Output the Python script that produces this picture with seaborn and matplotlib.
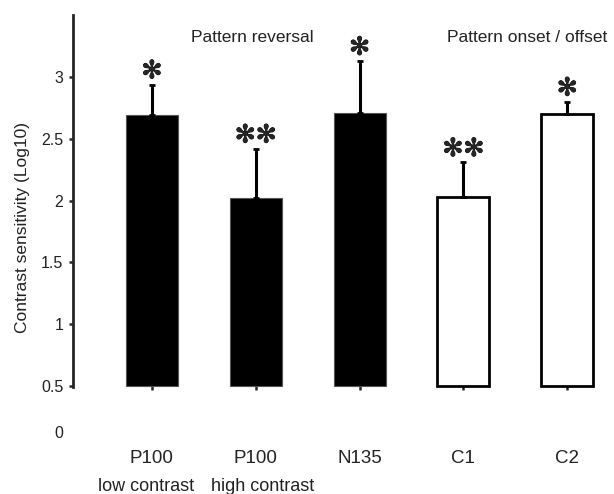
import numpy as np
import pandas as pd
import matplotlib
matplotlib.use("Agg")
import matplotlib.pyplot as plt
import matplotlib.patheffects as pe
import seaborn as sns

# values
conds = ["P100 low", "P100 high", "N135", "C1", "C2"]
ticklabels = ["P100", "P100", "N135", "C1", "C2"]
sublabels = ["low contrast", "high contrast"]
sub_shift = [-0.06, 0.07]
means = [2.69, 2.02, 2.71, 2.03, 2.70]
sem_up = [0.25, 0.40, 0.42, 0.28, 0.10]
stars = ["✻", "✻✻", "✻", "✻✻", "✻"]
fills = ["black", "black", "black", "white", "white"]
base = 0.5
yticks = [0.5, 1, 1.5, 2, 2.5, 3]
groups = ["Pattern reversal", "Pattern onset / offset"]
group_x = [0.97, 3.61]

sns.set_style("ticks")
plt.rcParams['font.family'] = ['Liberation Sans', 'DejaVu Sans']

df = pd.DataFrame({"cond": conds, "height": np.array(means) - base})

fig = plt.figure(figsize=(6.14, 4.94), dpi=100)
ax = fig.add_axes([0.1189, 0.0184, 0.8811, 0.9755])

sns.barplot(data=df, x="cond", y="height", hue="cond", palette=fills,
            bottom=base, width=0.5, legend=False, ax=ax)
for p, c in zip(ax.patches, fills):
    if c == "white":
        p.set_edgecolor("black")
        p.set_linewidth(2)
    else:
        p.set_edgecolor("#555555")
        p.set_linewidth(0.8)

x = np.arange(len(conds))
ax.errorbar(x, means, yerr=[np.zeros(len(means)), sem_up], fmt="none",
            ecolor="black", elinewidth=2.2, capsize=2.5, capthick=2, zorder=1)

for xi, m, e, s in zip(x, means, sem_up, stars):
    ax.annotate(s, (xi, m + e), xytext=(0, 1), textcoords="offset points",
                ha="center", va="bottom", fontsize=18, family="DejaVu Sans",
                path_effects=[pe.withStroke(linewidth=0.6, foreground="black")])

for gx, g in zip(group_x, groups):
    ax.text(gx, 3.32, g, ha="center", va="center", fontsize=12.5, color="#222222")

# second line of the first two category labels
for i, (sl, dx) in enumerate(zip(sublabels, sub_shift)):
    ax.annotate(sl, (i + dx, base), xytext=(0, -66.5), textcoords="offset points",
                ha="center", va="top", fontsize=13, color="#222222",
                annotation_clip=False)

ax.set_xlim(-0.76, 4.45)
ax.set_ylim(-0.3, 3.6)
ax.set_xticks(x, ticklabels)

ax.set_yticks([0.13] + yticks)
ax.set_yticklabels(["0"] + [f"{t:g}" for t in yticks], fontsize=11.5, color="#222222")
ax.yaxis.get_major_ticks()[0].tick1line.set_visible(False)
ax.tick_params(axis="y", length=3, width=1.8, pad=4)
ax.spines["left"].set_bounds(0.49, 3.5)
ax.spines["left"].set_linewidth(2)

ax.spines["bottom"].set_position(("data", base))
ax.spines["bottom"].set_visible(False)
ax.spines["top"].set_visible(False)
ax.spines["right"].set_visible(False)
ax.tick_params(axis="x", length=3, width=1.8, pad=43, labelsize=13.5, labelcolor="#222222")

ax.set_xlabel("")
ax.set_ylabel("Contrast sensitivity (Log10)", fontsize=12.5, color="#222222")
ax.yaxis.set_label_coords(-0.08, 0.535)

fig.savefig("out.png", dpi=100)
